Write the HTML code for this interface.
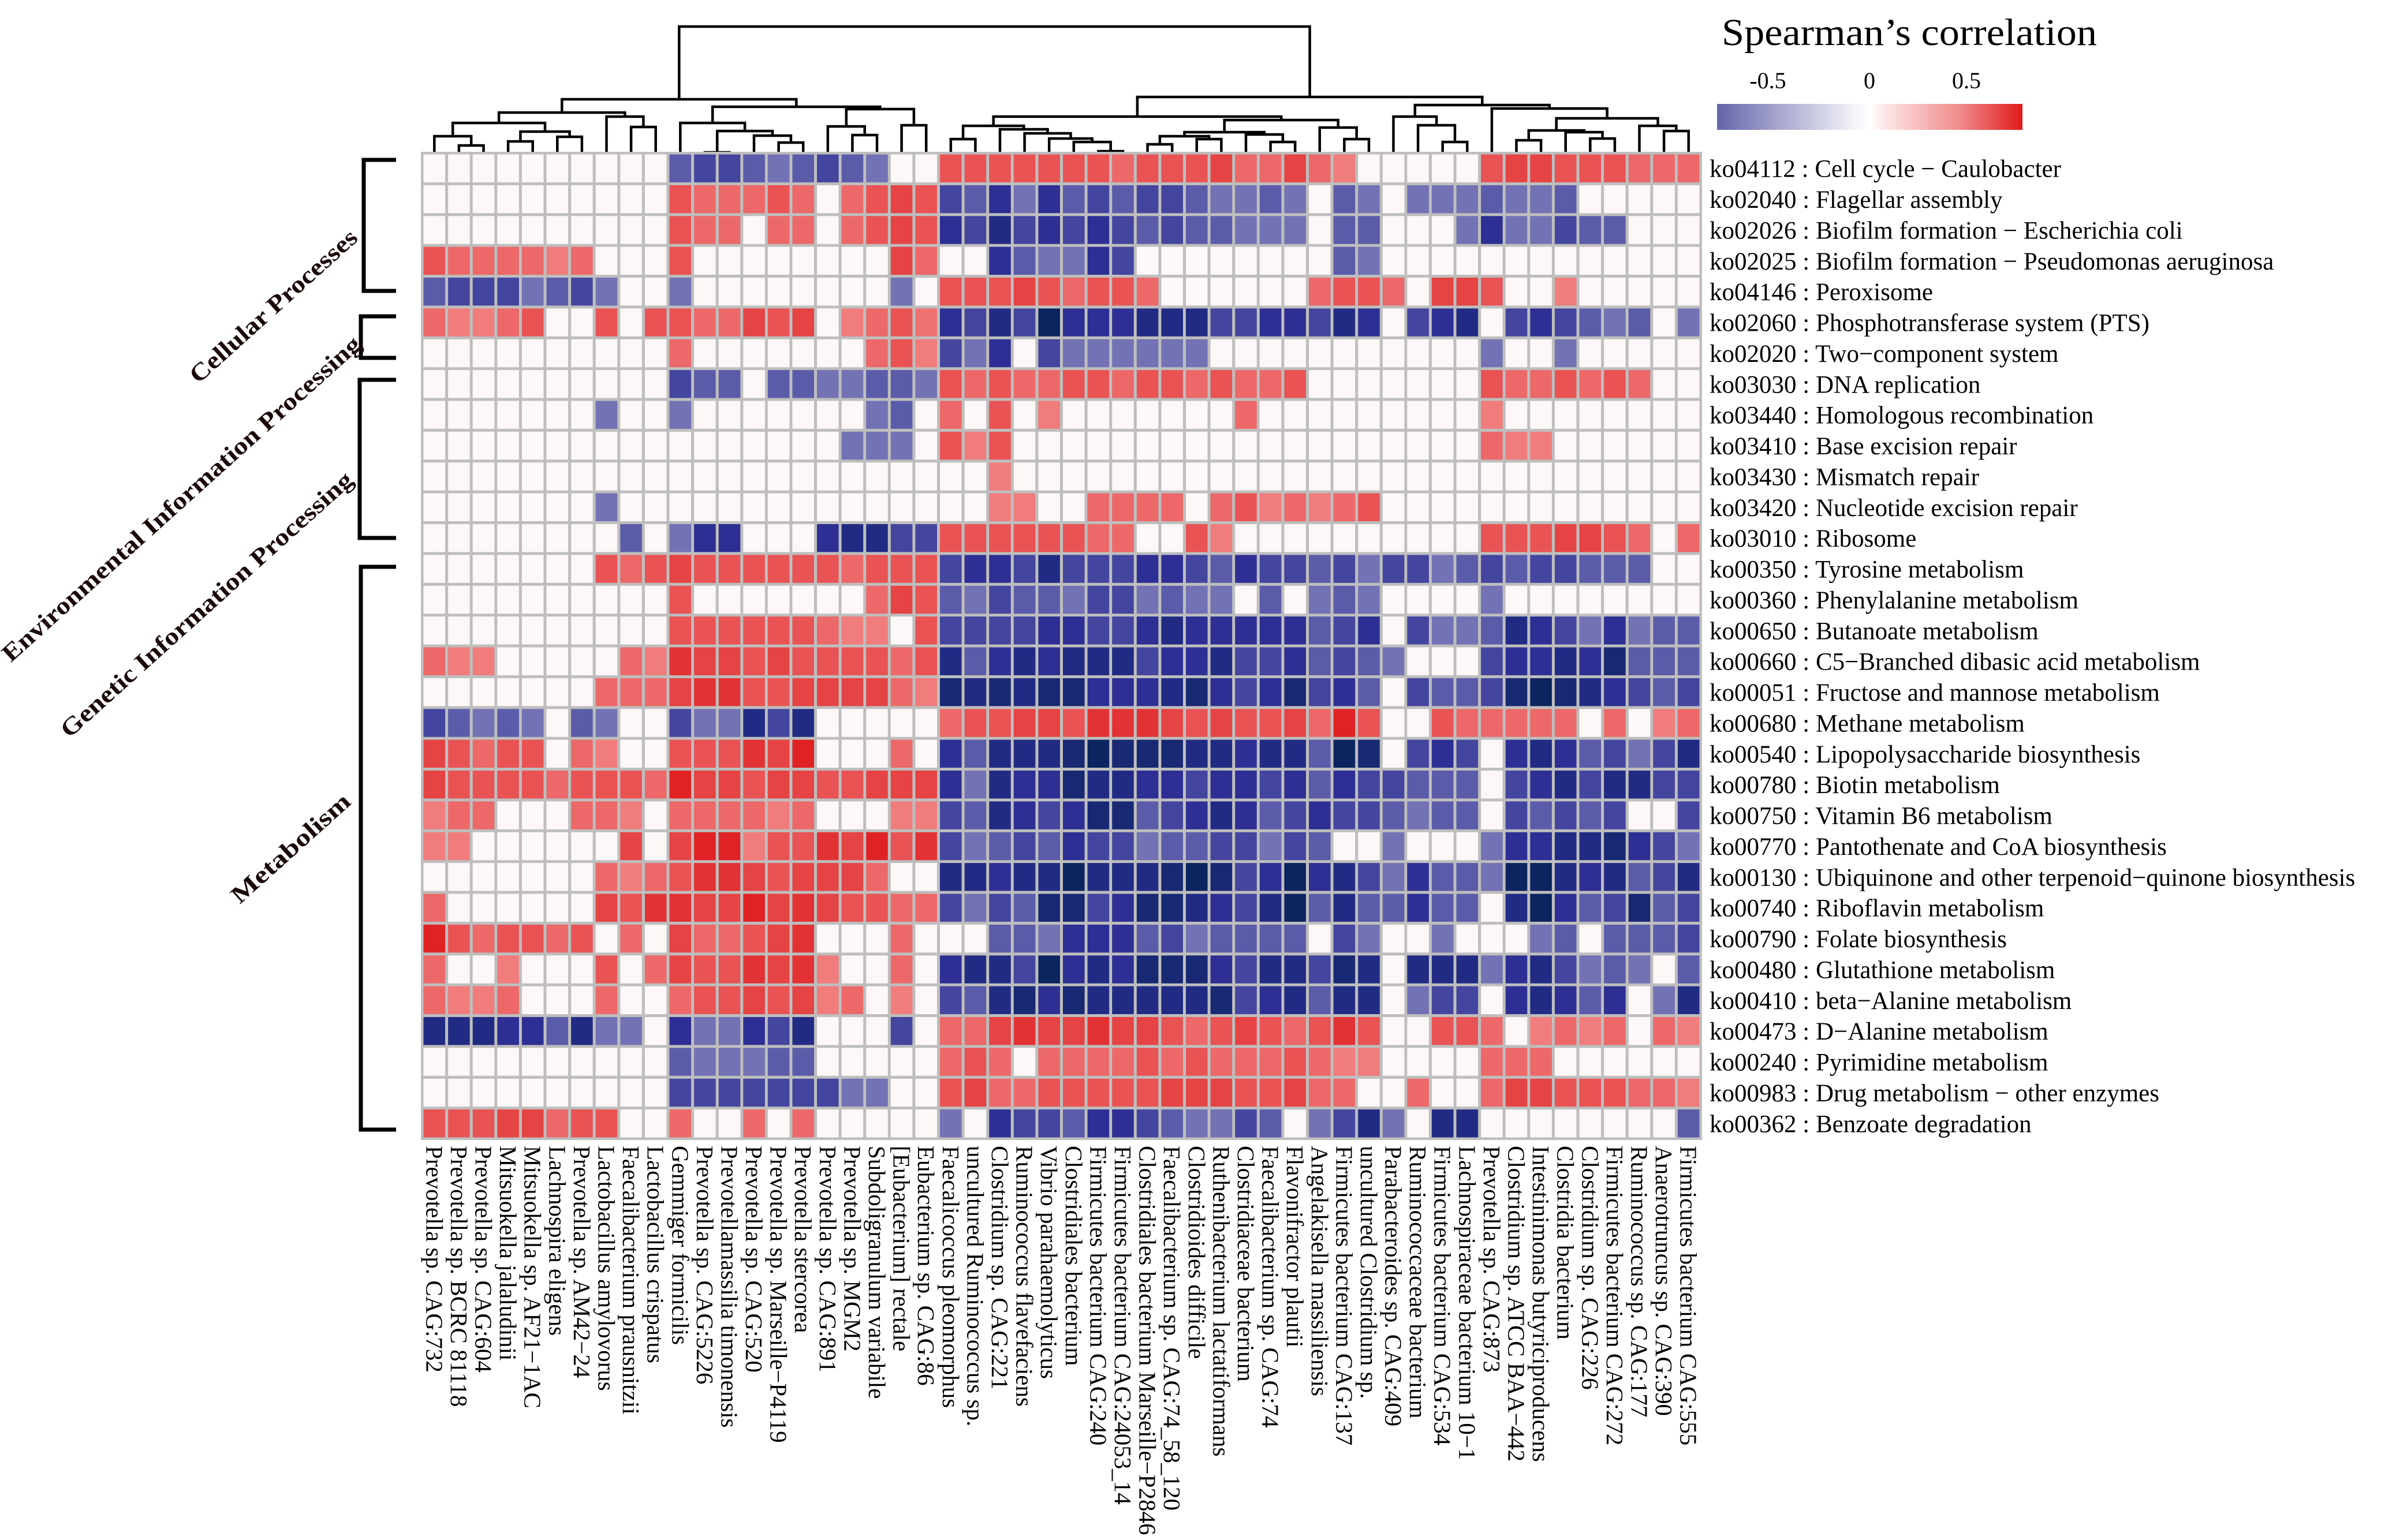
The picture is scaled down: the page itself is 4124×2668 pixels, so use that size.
<!DOCTYPE html>
<html><head><meta charset="utf-8"><title>Spearman correlation heatmap</title>
<style>html,body{margin:0;padding:0;background:#fff}svg{display:block}text{font-family:"Liberation Serif",serif}</style>
</head><body>
<svg id="chart" width="4124" height="2668" viewBox="0 0 4124 2668" xmlns="http://www.w3.org/2000/svg">
<rect width="4124" height="2668" fill="#fff"/>
<g id="dendro"></g>
<g id="cells"></g>
<g id="rowlabels"></g>
<g id="collabels"></g>
<g>
 <defs><linearGradient id="lg" x1="0" x2="1" y1="0" y2="0">
  <stop offset="0" stop-color="#6464aa"/><stop offset="0.17" stop-color="#9c9cc9"/><stop offset="0.45" stop-color="#f3f3f9"/><stop offset="0.5" stop-color="#ffffff"/><stop offset="0.55" stop-color="#fde6e6"/><stop offset="0.8" stop-color="#f08888"/><stop offset="1" stop-color="#e01a1a"/></linearGradient></defs>
 <text x="2982" y="78" font-size="66" textLength="650" lengthAdjust="spacingAndGlyphs">Spearman’s correlation</text>
 <text x="3062" y="153" font-size="40" text-anchor="middle">-0.5</text>
 <text x="3238" y="153" font-size="40" text-anchor="middle">0</text>
 <text x="3406" y="153" font-size="40" text-anchor="middle">0.5</text>
 <rect x="2974" y="180" width="529" height="45" fill="url(#lg)"/>
</g>
<g stroke="#000" stroke-width="7" fill="none">
 <path d="M686,277 H630 V504 H686"/>
 <path d="M686,548 H625 V620 H686"/>
 <path d="M686,658 H623 V932 H686"/>
 <path d="M686,982 H625 V1957 H686"/>
</g>
<g font-weight="bold" font-size="42" text-anchor="end" fill="#1a0a0a">
 <text transform="translate(622,415) rotate(-42)" textLength="375" lengthAdjust="spacingAndGlyphs">Cellular Processes</text>
 <text transform="translate(628,600) rotate(-42)" textLength="820" lengthAdjust="spacingAndGlyphs">Environmental  Information Processing</text>
 <text transform="translate(614,835) rotate(-42)" textLength="665" lengthAdjust="spacingAndGlyphs">Genetic Information Processing</text>
 <text transform="translate(610,1392) rotate(-42)" textLength="262" lengthAdjust="spacingAndGlyphs">Metabolism</text>
</g>
</svg>
<script>
const rowLabels = ["ko04112 : Cell cycle − Caulobacter","ko02040 : Flagellar assembly","ko02026 : Biofilm formation − Escherichia coli","ko02025 : Biofilm formation − Pseudomonas aeruginosa","ko04146 : Peroxisome","ko02060 : Phosphotransferase system (PTS)","ko02020 : Two−component system","ko03030 : DNA replication","ko03440 : Homologous recombination","ko03410 : Base excision repair","ko03430 : Mismatch repair","ko03420 : Nucleotide excision repair","ko03010 : Ribosome","ko00350 : Tyrosine metabolism","ko00360 : Phenylalanine metabolism","ko00650 : Butanoate metabolism","ko00660 : C5−Branched dibasic acid metabolism","ko00051 : Fructose and mannose metabolism","ko00680 : Methane metabolism","ko00540 : Lipopolysaccharide biosynthesis","ko00780 : Biotin metabolism","ko00750 : Vitamin B6 metabolism","ko00770 : Pantothenate and CoA biosynthesis","ko00130 : Ubiquinone and other terpenoid−quinone biosynthesis","ko00740 : Riboflavin metabolism","ko00790 : Folate biosynthesis","ko00480 : Glutathione metabolism","ko00410 : beta−Alanine metabolism","ko00473 : D−Alanine metabolism","ko00240 : Pyrimidine metabolism","ko00983 : Drug metabolism − other enzymes","ko00362 : Benzoate degradation"];
const colLabels = ["Prevotella sp. CAG:732","Prevotella sp. BCRC 81118","Prevotella sp. CAG:604","Mitsuokella jalaludinii","Mitsuokella sp. AF21−1AC","Lachnospira eligens","Prevotella sp. AM42−24","Lactobacillus amylovorus","Faecalibacterium prausnitzii","Lactobacillus crispatus","Gemmiger formicilis","Prevotella sp. CAG:5226","Prevotellamassilia timonensis","Prevotella sp. CAG:520","Prevotella sp. Marseille−P4119","Prevotella stercorea","Prevotella sp. CAG:891","Prevotella sp. MGM2","Subdoligranulum variabile","[Eubacterium] rectale","Eubacterium sp. CAG:86","Faecalicoccus pleomorphus","uncultured Ruminococcus sp.","Clostridium sp. CAG:221","Ruminococcus flavefaciens","Vibrio parahaemolyticus","Clostridiales bacterium","Firmicutes bacterium CAG:240","Firmicutes bacterium CAG:24053_14","Clostridiales bacterium Marseille−P2846","Faecalibacterium sp. CAG:74_58_120","Clostridioides difficile","Ruthenibacterium lactatiformans","Clostridiaceae bacterium","Faecalibacterium sp. CAG:74","Flavonifractor plautii","Angelakisella massiliensis","Firmicutes bacterium CAG:137","uncultured Clostridium sp.","Parabacteroides sp. CAG:409","Ruminococcaceae bacterium","Firmicutes bacterium CAG:534","Lachnospiraceae bacterium 10−1","Prevotella sp. CAG:873","Clostridium sp. ATCC BAA−442","Intestinimonas butyriciproducens","Clostridia bacterium","Clostridium sp. CAG:226","Firmicutes bacterium CAG:272","Ruminococcus sp. CAG:177","Anaerotruncus sp. CAG:390","Firmicutes bacterium CAG:555"];
const values = [
[0,0,0,0,0,0,0,0,0,0,-.4,-.5,-.5,-.4,-.3,-.4,-.5,-.4,-.3,0,0,.5,.5,.5,.5,.5,.5,.5,.4,.5,.5,.5,.58,.4,.4,.58,.4,.3,0,0,0,0,0,.5,.58,.58,.5,.5,.5,.4,.4,.4],
[0,0,0,0,0,0,0,0,0,0,.5,.4,.4,.4,.5,.4,0,.4,.5,.58,.5,-.5,-.4,-.6,-.3,-.6,-.4,-.5,-.4,-.5,-.5,-.4,-.3,-.3,-.4,-.3,0,-.4,-.3,0,-.3,-.3,-.3,-.4,-.3,-.3,-.4,0,0,0,0,0],
[0,0,0,0,0,0,0,0,0,0,.5,.4,.4,0,.4,.4,0,.4,.5,.58,.5,-.6,-.5,-.68,-.5,-.6,-.5,-.6,-.5,-.4,-.5,-.4,-.4,-.3,-.3,-.3,0,-.4,-.4,0,0,0,-.3,-.6,-.3,-.3,-.5,-.4,-.4,0,0,0],
[.5,.4,.4,.4,.4,.3,.4,0,0,0,.5,0,0,0,0,0,0,0,0,.58,.4,0,0,-.6,-.4,-.3,-.3,-.6,-.5,0,0,0,0,0,0,0,0,-.4,-.3,0,0,0,0,0,0,0,0,0,0,0,0,0],
[-.4,-.5,-.5,-.5,-.3,-.4,-.5,-.3,0,0,-.3,0,0,0,0,0,0,0,0,-.3,0,.5,.5,.5,.58,.5,.4,.5,.5,.4,0,0,0,0,0,0,.4,.5,.5,.4,0,.58,.58,.5,0,0,.3,0,0,0,0,0],
[.4,.3,.3,.4,.5,0,0,.5,0,.5,.5,.4,.4,.58,.5,.58,0,.3,.4,.5,.35,-.6,-.5,-.68,-.5,-.85,-.6,-.6,-.6,-.68,-.68,-.68,-.5,-.5,-.6,-.6,-.5,-.68,-.6,0,-.5,-.6,-.68,0,-.5,-.6,-.5,-.4,-.3,-.4,0,-.3],
[0,0,0,0,0,0,0,0,0,0,.4,0,0,0,0,0,0,0,.4,.5,.3,-.5,-.3,-.6,0,-.5,-.3,-.3,-.3,-.3,-.3,-.3,0,0,0,0,0,0,0,0,0,0,0,-.3,0,0,-.3,0,0,0,0,0],
[0,0,0,0,0,0,0,0,0,0,-.5,-.4,-.4,0,-.4,-.4,-.3,-.3,-.4,-.4,-.3,.5,.4,.5,.4,.4,.5,.5,.4,.5,.5,.4,.5,.4,.4,.5,0,0,0,0,0,0,0,.5,.4,.4,.5,.4,.5,.4,0,0],
[0,0,0,0,0,0,0,-.3,0,0,-.3,0,0,0,0,0,0,0,-.3,-.4,0,.4,0,.5,0,.3,0,0,0,0,0,0,0,.4,0,0,0,0,0,0,0,0,0,.3,0,0,0,0,0,0,0,0],
[0,0,0,0,0,0,0,0,0,0,0,0,0,0,0,0,0,-.3,-.3,-.3,0,.5,.3,.5,0,0,0,0,0,0,0,0,0,0,0,0,0,0,0,0,0,0,0,.4,.3,.3,0,0,0,0,0,0],
[0,0,0,0,0,0,0,0,0,0,0,0,0,0,0,0,0,0,0,0,0,0,0,.3,0,0,0,0,0,0,0,0,0,0,0,0,0,0,0,0,0,0,0,0,0,0,0,0,0,0,0,0],
[0,0,0,0,0,0,0,-.3,0,0,0,0,0,0,0,0,0,0,0,0,0,0,0,.3,.3,0,0,.4,.4,.4,.4,0,.4,.5,.3,.4,.3,.4,.5,0,0,0,0,0,0,0,0,0,0,0,0,0],
[0,0,0,0,0,0,0,0,-.4,0,-.3,-.6,-.6,0,0,0,-.6,-.68,-.68,-.5,-.5,.5,.5,.5,.5,.5,.5,.4,.4,0,0,.5,.3,0,0,0,0,0,0,0,0,0,0,.5,.5,.5,.58,.58,.5,.4,0,.4],
[0,0,0,0,0,0,0,.5,.4,.5,.58,.5,.5,.5,.5,.5,.5,.4,.5,.5,.5,-.5,-.6,-.6,-.5,-.68,-.5,-.5,-.5,-.6,-.6,-.5,-.4,-.6,-.5,-.5,-.4,-.5,-.3,-.5,-.5,-.3,-.4,-.5,-.4,-.5,-.5,-.4,-.4,-.4,0,0],
[0,0,0,0,0,0,0,0,0,0,.5,0,0,0,0,0,0,0,.4,.58,.5,-.4,-.3,-.5,-.4,-.4,-.3,-.5,-.5,-.3,-.4,-.3,-.3,0,-.4,0,-.3,-.4,-.3,0,0,0,0,-.3,0,0,0,0,0,0,0,0],
[0,0,0,0,0,0,0,0,0,0,.5,.5,.5,.5,.5,.5,.4,.3,.3,0,.5,-.5,-.5,-.5,-.5,-.6,-.6,-.5,-.5,-.6,-.68,-.6,-.6,-.6,-.6,-.6,-.4,-.5,-.6,0,-.5,-.3,-.3,-.4,-.68,-.6,-.5,-.3,-.6,-.3,-.4,-.4],
[.4,.3,.3,0,0,0,0,0,.4,.3,.66,.58,.58,.5,.58,.5,.5,.5,.5,.4,.5,-.68,-.4,-.6,-.68,-.6,-.68,-.68,-.68,-.5,-.6,-.6,-.68,-.5,-.5,-.6,-.4,-.5,-.4,-.3,0,0,0,-.5,-.6,-.6,-.68,-.6,-.76,-.4,-.4,-.4],
[0,0,0,0,0,0,0,.4,.4,.4,.58,.66,.66,.5,.5,.58,.58,.58,.58,.4,.3,-.76,-.68,-.76,-.68,-.76,-.76,-.6,-.6,-.6,-.68,-.76,-.6,-.5,-.6,-.76,-.5,-.6,-.4,0,-.5,-.4,-.4,-.5,-.76,-.85,-.76,-.68,-.6,-.5,-.4,-.5],
[-.5,-.4,-.3,-.4,-.3,0,-.4,-.3,0,0,-.5,-.3,-.3,-.68,-.5,-.68,0,0,0,0,0,.4,.5,.5,.58,.58,.5,.66,.66,.66,.58,.5,.58,.5,.5,.58,.4,.74,.5,0,0,.5,.4,.4,.4,.4,.4,0,.4,0,.3,.4],
[.58,.5,.4,.5,.5,0,.4,.3,0,0,.5,.5,.5,.66,.58,.74,0,0,0,.4,0,-.6,-.4,-.68,-.68,-.68,-.76,-.85,-.76,-.76,-.76,-.68,-.68,-.6,-.68,-.68,-.4,-.85,-.76,0,-.5,-.6,-.5,0,-.6,-.68,-.6,-.4,-.5,-.3,-.5,-.68],
[.58,.5,.5,.5,.5,.4,.5,.5,.5,.4,.74,.58,.58,.5,.58,.58,.5,.5,.58,.58,.58,-.6,-.3,-.68,-.6,-.6,-.76,-.68,-.68,-.6,-.6,-.5,-.6,-.6,-.5,-.6,-.4,-.6,-.5,-.5,-.4,-.4,-.4,0,-.5,-.6,-.68,-.5,-.68,-.68,-.5,-.5],
[.3,.4,.4,0,0,0,.4,.4,.3,0,.4,.4,.4,.4,.3,.4,0,0,0,.3,.3,-.5,-.4,-.68,-.6,-.5,-.6,-.76,-.76,-.4,-.5,-.6,-.68,-.6,-.4,-.5,-.6,-.5,-.5,-.4,-.3,-.4,-.4,0,-.5,-.4,-.5,-.4,-.5,0,0,-.5],
[.3,.3,0,0,0,0,0,0,.58,0,.58,.74,.74,.3,.5,.5,.66,.58,.74,.5,.66,-.5,-.3,-.4,-.5,-.4,-.6,-.5,-.5,-.3,-.4,-.4,-.5,-.5,-.3,-.5,-.4,0,0,-.3,0,0,0,-.3,-.6,-.6,-.68,-.68,-.76,-.6,-.5,-.3],
[0,0,0,0,0,0,0,.4,.3,.4,.5,.66,.66,.58,.5,.58,.58,.58,.4,0,0,-.68,-.68,-.6,-.68,-.68,-.85,-.68,-.68,-.68,-.76,-.85,-.76,-.5,-.6,-.85,-.6,-.68,-.5,-.3,-.6,-.4,-.4,-.3,-.85,-.85,-.68,-.6,-.68,-.4,-.5,-.68],
[.4,0,0,0,0,0,0,.58,.5,.66,.66,.58,.58,.74,.58,.66,.58,.5,.5,.4,.4,-.5,-.3,-.5,-.4,-.76,-.76,-.5,-.6,-.76,-.76,-.68,-.6,-.5,-.68,-.85,-.4,-.68,-.4,-.4,-.6,-.4,-.4,0,-.68,-.85,-.6,-.4,-.5,-.76,-.4,-.5],
[.74,.5,.4,.5,.5,.4,.5,0,.4,0,.58,.4,.4,.5,.58,.66,0,0,0,.4,0,0,0,-.4,-.4,-.3,-.6,-.6,-.6,-.4,-.5,-.3,-.4,-.4,-.4,-.4,0,-.5,-.3,0,0,-.3,0,0,0,-.3,-.4,0,-.4,-.4,-.4,-.5],
[.4,0,0,.3,0,0,0,.5,0,.4,.58,.5,.5,.66,.58,.66,.3,0,0,.4,0,-.6,-.68,-.68,-.5,-.85,-.6,-.68,-.6,-.76,-.76,-.76,-.6,-.5,-.68,-.68,-.5,-.76,-.68,0,-.68,-.68,-.68,-.3,-.6,-.68,-.5,-.3,-.4,-.3,0,-.4],
[.4,.3,.3,.4,0,0,0,.4,0,0,.4,.5,.5,.58,.5,.58,.3,.4,0,.3,0,-.5,-.4,-.68,-.76,-.6,-.76,-.68,-.68,-.68,-.68,-.68,-.76,-.5,-.6,-.68,-.4,-.68,-.68,0,-.3,-.5,-.5,0,-.6,-.68,-.6,-.4,-.6,0,-.3,-.68],
[-.68,-.68,-.68,-.6,-.6,-.4,-.68,-.3,-.3,0,-.6,-.3,-.3,-.6,-.5,-.68,0,0,0,-.5,0,.4,.4,.58,.66,.58,.58,.66,.58,.58,.5,.4,.5,.58,.5,.4,.5,.66,.5,0,0,.5,.5,.4,0,.3,.4,.3,.4,0,.4,.3],
[0,0,0,0,0,0,0,0,0,0,-.4,-.3,-.3,-.3,-.4,-.4,0,0,0,0,0,.4,.5,.4,0,.4,.4,.4,.4,.5,.4,.5,.4,.4,.4,.5,.4,.3,.3,0,0,0,0,.4,.4,.4,0,0,0,0,0,0],
[0,0,0,0,0,0,0,0,0,0,-.5,-.5,-.5,-.5,-.5,-.5,-.5,-.3,-.3,0,0,.5,.58,.4,.4,.5,.5,.5,.5,.5,.58,.58,.58,.5,.5,.58,.4,.4,0,0,.4,0,0,.4,.58,.58,.5,.5,.5,.4,.4,.3],
[.5,.5,.5,.58,.58,.4,.5,.5,0,0,.4,0,0,.4,0,.4,0,0,0,0,0,-.3,0,-.6,-.5,-.5,-.4,-.6,-.6,-.5,-.4,-.3,-.3,-.5,-.4,0,-.3,-.5,-.68,-.3,0,-.68,-.68,0,0,0,0,0,0,0,0,-.4]
];
// column dendrogram: [left, right, mergeY]; leaves are column indices
const tree = [[[[[0,[1,2,252],236],[[3,4,245],[5,6,237],228],213],[7,[8,9,220],202],195],[[10,[[11,12,264],[13,[14,15,247],235],227],213],[[16,[17,18,234],219],[19,20,217],189],185],172],[[[[21,22,241],[23,[24,[25,[26,[27,28,262],246],240],231],224],218],[[[[29,30,250],[31,32,241],236],[33,[34,35,246],233],229],[36,[37,38,241],221],208],202],[[39,[40,[41,42,246],217],202],[43,[[[44,45,243],[46,[47,48,240],229],226],[49,[50,51,227],218],205],188],182],168],46];

const NS="http://www.w3.org/2000/svg";
const X0=731, X1=2946, Y0=265, Y1=1973;
const nC=colLabels.length, nR=rowLabels.length;
const cw=(X1-X0)/nC, rh=(Y1-Y0)/nR;
function xScale(i){return X0+i*cw;}
function yScale(j){return Y0+j*rh;}
function lerp(a,b,t){return a.map((v,k)=>Math.round(v+(b[k]-v)*t));}
function color(v){
  if(Math.abs(v)<0.05) return "rgb(253,247,247)";
  let c;
  if(v>0){const t=Math.max(0,Math.min(1,(v-0.3)/0.44));c=lerp([241,124,124],[224,34,36],t);}
  else{const t=Math.max(0,Math.min(1,(-v-0.3)/0.55));
    c=t<0.55?lerp([114,114,180],[44,46,148],t/0.55):lerp([44,46,148],[12,36,96],(t-0.55)/0.45);}
  return "rgb("+c.join(",")+")";
}
function mk(tag,attrs,parent){const e=document.createElementNS(NS,tag);for(const k in attrs)e.setAttribute(k,attrs[k]);parent.appendChild(e);return e;}

const cells=document.getElementById("cells");
const bg=mk("rect",{x:X0-2,y:Y0-2,width:X1-X0+4,height:Y1-Y0+4,fill:"#bebebe"},cells);


for(let r=0;r<nR;r++){for(let c=0;c<nC;c++){
  const e=mk("rect",{x:(xScale(c)+2.5).toFixed(1),y:(yScale(r)+2.5).toFixed(1),width:(cw-5).toFixed(1),height:(rh-5).toFixed(1),fill:color(values[r][c])},cells);
  
  
}}

const rl=document.getElementById("rowlabels");
rowLabels.forEach((t,r)=>{
  const e=mk("text",{x:2961,y:(yScale(r)+rh/2+15).toFixed(1),"font-size":43},rl);
  e.textContent=t;
  
  
});
const cl=document.getElementById("collabels");
colLabels.forEach((t,c)=>{
  const x=xScale(c)+cw/2-14;
  const e=mk("text",{transform:"translate("+x.toFixed(1)+",1985) rotate(90)","font-size":41},cl);
  e.textContent=t;
  
  
});

const dg=document.getElementById("dendro");
function draw(node){
  if(typeof node==="number") return {x:xScale(node)+cw/2,y:Y0};
  const a=draw(node[0]), b=draw(node[1]), h=node[2];
  const p=mk("path",{d:"M"+a.x.toFixed(1)+","+a.y+" V"+h+" H"+b.x.toFixed(1)+" V"+b.y,fill:"none",stroke:"#000","stroke-width":4.5},dg);
  
  
  return {x:(a.x+b.x)/2,y:h};
}
draw(tree);
</script>
</body></html>
